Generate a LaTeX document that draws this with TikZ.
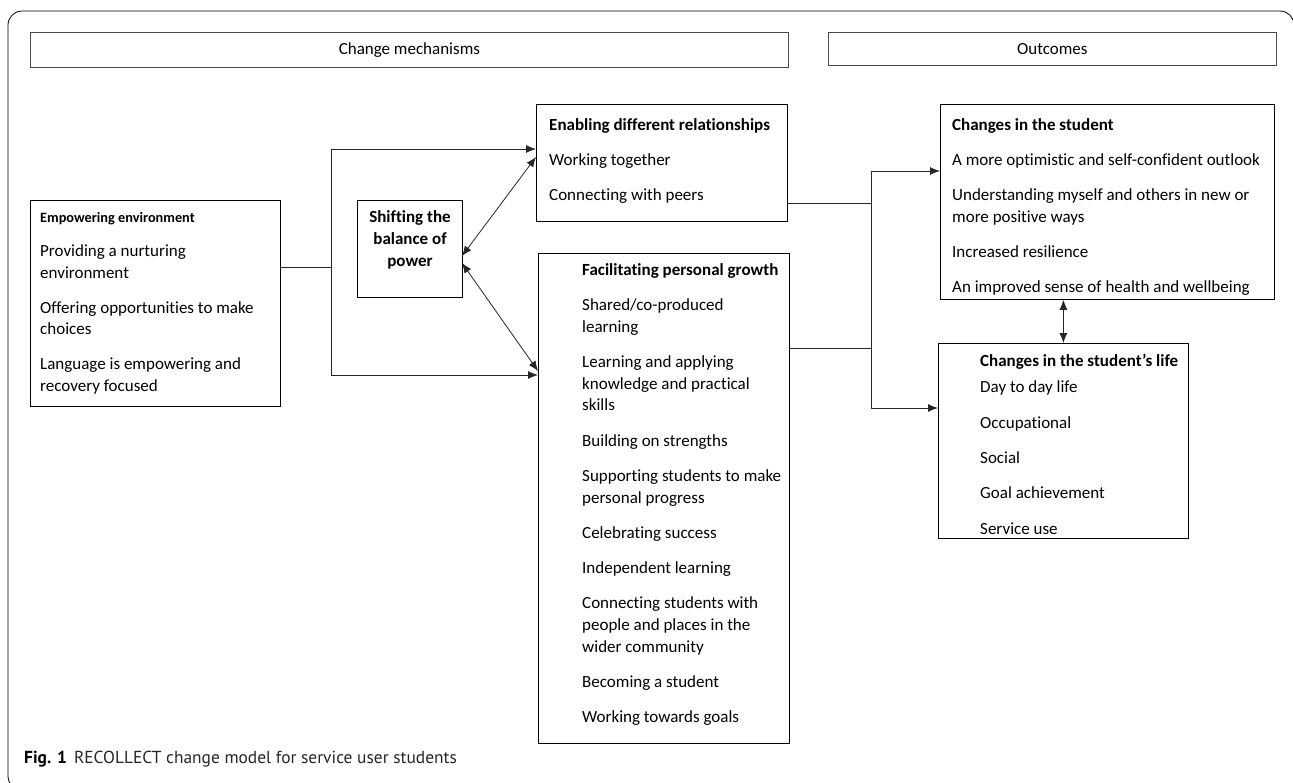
\documentclass[tikz,border=0pt]{standalone}
\usepackage{fontspec}
\setmainfont{Carlito}[Ligatures=NoCommon]
\newfontfamily\capfont{PT Sans}
\usetikzlibrary{arrows.meta}
\newcommand\bt[3]{\parbox[t]{#1}{\setlength\parskip{#2}\fontsize{17}{21.7}\selectfont\raggedright #3}}
\begin{document}
\begin{tikzpicture}[x=1pt,y=-1pt,
  font=\fontsize{17}{21.7}\selectfont,
  box/.style={draw, line width=0.8pt, anchor=north west, inner sep=0pt},
  hbox/.style={box, draw=black!70},
  txt/.style={anchor=base west, inner sep=0pt},
  conn/.style={line width=0.8pt, draw=black!85},
  arr/.style={conn, -{Latex[length=10pt,width=8pt]}},
  darr/.style={conn, {Latex[length=10pt,width=8pt]}-{Latex[length=10pt,width=8pt]}}]
\useasboundingbox (0,0) rectangle (1293,782);
% outer frame
\draw[line width=0.8pt, rounded corners=14pt] (80,790) -- (8,790) -- (8,11) -- (1294,11) -- (1294,120);
% headers
\node[hbox, minimum width=758pt, minimum height=35pt] (cm) at (30,32) {};
\node[inner sep=0pt] (cmt) at (cm.center) {Change mechanisms};
\node[hbox, minimum width=448pt, minimum height=33pt] (oc) at (828,32) {};
\node[inner sep=0pt] (oct) at (oc.center) {Outcomes};
% boxes
\node[box, minimum width=250pt, minimum height=206pt] (ee) at (30,200) {};
\node[box, minimum width=105pt, minimum height=97pt] (sb) at (357,200) {};
\node[box, minimum width=251pt, minimum height=117pt] (ed) at (536,104) {};
\node[box, minimum width=251pt, minimum height=490pt] (fg) at (538,253) {};
\node[box, minimum width=334pt, minimum height=195pt] (cs) at (940,104) {};
\node[box, minimum width=250pt, minimum height=195pt] (cl) at (938,343) {};
% texts
\node[txt] (eet) at (40,222) {\bt{260pt}{13pt}{{\fontsize{14.3}{15}\selectfont\bfseries Empowering environment}\par
Providing a nurturing\newline environment\par
Offering opportunities to make\newline choices\par
Language is empowering and\newline recovery focused}};
\node[anchor=base, inner sep=0pt] (sbt) at (410,222) {\parbox[t]{120pt}{\centering\bfseries\fontsize{17}{22}\selectfont Shifting the\\balance of\\power}};
\node[txt] (edt) at (549,130) {\bt{260pt}{13.3pt}{\textbf{Enabling different relationships}\par
Working together\par
Connecting with peers}};
\node[txt] (fgt) at (582,275) {\bt{260pt}{13.6pt}{\textbf{Facilitating personal growth}\par
Shared/co-produced\newline learning\par
Learning and applying\newline knowledge and practical\newline skills\par
Building on strengths\par
Supporting students to make\newline personal progress\par
Celebrating success\par
Independent learning\par
Connecting students with\newline people and places in the\newline wider community\par
Becoming a student\par
Working towards goals}};
\node[txt] (cst) at (952,130) {\bt{360pt}{13.6pt}{\textbf{Changes in the student}\par
A more optimistic and self-confident outlook\par
Understanding myself and others in new or\newline more positive ways\par
Increased resilience\par
An improved sense of health and wellbeing}};
\node[txt] (clt) at (980,366) {\bt{260pt}{13.6pt}{\textbf{Changes in the student’s life}\par\vspace{-8.5pt}
Day to day life\par
Occupational\par
Social\par
Goal achievement\par
Service use}};
% left connectors
\coordinate (j1) at (331,267);
\coordinate (j1top) at (331,149);
\coordinate (j1bot) at (331,375);
\draw[conn] (ee.east |- j1) -- (j1);
\draw[conn] (j1top) -- (j1bot);
\draw[arr] (j1top) -- (ed.west |- j1top);
\draw[arr] (j1bot) -- (fg.west |- j1bot);
\coordinate (s1) at (462,256);
\coordinate (s2) at (462,263);
\coordinate (e1) at (536,157);
\coordinate (f1) at (538,371);
\draw[darr] (s1) -- (e1);
\draw[darr] (s2) -- (f1);
% right connectors
\coordinate (j2a) at (871,203);
\coordinate (j2b) at (871,348);
\coordinate (j2top) at (871,171);
\coordinate (j2bot) at (871,408);
\draw[conn] (ed.east |- j2a) -- (j2a);
\draw[conn] (fg.east |- j2b) -- (j2b);
\draw[conn] (j2top) -- (j2bot);
\draw[arr] (j2top) -- (cs.west |- j2top);
\draw[arr] (j2bot) -- (cl.west |- j2bot);
\draw[darr] (cs.south -| cl.north) -- (cl.north);
% caption
\node[anchor=base west, inner sep=0pt] (cap) at (24,763) {\capfont\fontsize{17.4}{20}\selectfont\textbf{Fig. 1}\hspace{7pt}{\color{black!85}RECOLLECT change model for service user students}};
\end{tikzpicture}
\end{document}
